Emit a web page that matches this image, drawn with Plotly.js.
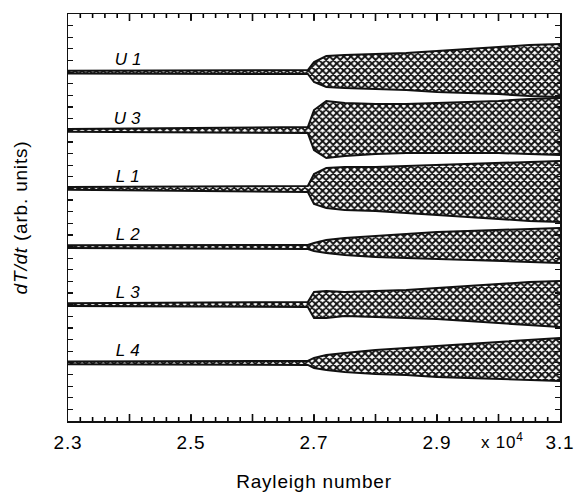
<!DOCTYPE html>
<html>
<head>
<meta charset="utf-8">
<script src="https://cdn.plot.ly/plotly-3.0.1.min.js"></script>
<style>
html,body{margin:0;padding:0;background:#fff;}
#chart{width:585px;height:493px;}
#chart .xtick text, #chart .xtitle, #chart .ytitle, #chart .annotation-text { letter-spacing: 0.8px; }
</style>
</head>
<body>
<div id="chart"></div>
<script>
// Rayleigh number (x 10^4)
const ra = [2.30, 2.69, 2.70, 2.72, 2.75, 2.80, 2.85, 2.90, 2.95, 3.00, 3.05, 3.10];

// Envelope of each dT/dt signal (arb. units, each trace offset by 5)
const u1Upper = [30.12, 30.18, 30.87, 31.38, 31.47, 31.56, 31.64, 31.81, 31.99, 32.16, 32.33, 32.42];
const u1Lower = [29.88, 29.84, 29.15, 28.72, 28.63, 28.55, 28.46, 28.29, 28.20, 28.12, 27.94, 27.86];
const u3Upper = [25.12, 25.28, 26.74, 27.52, 27.34, 27.26, 27.26, 27.34, 27.43, 27.52, 27.69, 27.77];
const u3Lower = [24.88, 24.76, 23.30, 22.61, 22.79, 22.96, 23.04, 23.04, 23.04, 23.04, 22.96, 22.87];
const l1Upper = [20.12, 20.21, 21.24, 21.75, 21.84, 21.84, 21.93, 22.01, 22.10, 22.18, 22.27, 22.36];
const l1Lower = [19.88, 19.69, 18.66, 18.31, 18.14, 18.06, 17.89, 17.71, 17.54, 17.37, 17.20, 17.11];
const l2Upper = [15.12, 15.13, 15.31, 15.56, 15.74, 15.91, 16.08, 16.25, 16.34, 16.42, 16.51, 16.60];
const l2Lower = [14.88, 14.79, 14.62, 14.45, 14.27, 14.10, 14.02, 13.93, 13.84, 13.76, 13.67, 13.59];
const l3Upper = [10.12, 10.23, 11.09, 11.18, 11.09, 11.18, 11.26, 11.44, 11.61, 11.78, 11.95, 12.04];
const l3Lower = [9.88, 9.80, 8.86, 8.86, 9.03, 8.94, 8.86, 8.77, 8.60, 8.43, 8.25, 8.08];
const l4Upper = [5.12, 5.16, 5.42, 5.67, 5.85, 6.10, 6.28, 6.45, 6.62, 6.79, 6.96, 7.14];
const l4Lower = [4.88, 4.82, 4.56, 4.39, 4.21, 4.04, 3.96, 3.78, 3.70, 3.61, 3.53, 3.44];

const seriesNames = ['U1', 'U3', 'L1', 'L2', 'L3', 'L4'];
const baselines = [30, 25, 20, 15, 10, 5];
const uppers = [u1Upper, u3Upper, l1Upper, l2Upper, l3Upper, l4Upper];
const lowers = [u1Lower, u3Lower, l1Lower, l2Lower, l3Lower, l4Lower];

// x ticks: labels every 0.2, long ticks every 0.1, short ticks every 0.02
const xTickVals = [2.3, 2.4, 2.5, 2.6, 2.7, 2.8, 2.9, 3.0, 3.1];
const xTickText = ['2.3', '', '2.5', '', '2.7', '', '2.9', '', '3.1'];
const xMinorTicks = [2.32, 2.34, 2.36, 2.38, 2.42, 2.44, 2.46, 2.48, 2.52, 2.54, 2.56, 2.58,
  2.62, 2.64, 2.66, 2.68, 2.72, 2.74, 2.76, 2.78, 2.82, 2.84, 2.86, 2.88,
  2.92, 2.94, 2.96, 2.98, 3.02, 3.04, 3.06, 3.08];
const yRange = [0, 35];

const plotHeightPx = 493 - 14 - 72;
const unitsPerPx = (yRange[1] - yRange[0]) / plotHeightPx;

const traces = [];
seriesNames.forEach((name, i) => {
  traces.push({
    x: ra, y: lowers[i], type: 'scatter', mode: 'lines',
    line: {color: '#111', width: 2},
    hoverinfo: 'skip', showlegend: false
  });
  traces.push({
    x: ra, y: uppers[i], type: 'scatter', mode: 'lines', name: name,
    line: {color: '#111', width: 2},
    fill: 'tonexty', fillcolor: 'rgba(0,0,0,0)',
    fillpattern: {shape: 'x', fgcolor: '#111', bgcolor: '#fff', size: 5, solidity: 0.62},
    hoverinfo: 'skip', showlegend: false
  });
});

// inward x-axis tick marks on the bottom and top frame
function tickSegments(vals, lenPx) {
  const d = lenPx * unitsPerPx;
  const xs = [], ys = [];
  vals.forEach(v => {
    xs.push(v, v, null, v, v, null);
    ys.push(yRange[0], yRange[0] + d, null, yRange[1], yRange[1] - d, null);
  });
  return {
    x: xs, y: ys, type: 'scatter', mode: 'lines', connectgaps: false,
    line: {color: '#000', width: 1.6},
    hoverinfo: 'skip', showlegend: false
  };
}
traces.push(tickSegments(xTickVals.slice(1, -1), 7));
traces.push(tickSegments(xMinorTicks, 4));

const font = 'Liberation Sans, Arial, Helvetica, sans-serif';
const annotations = seriesNames.map((name, i) => ({
  x: 2.398, y: baselines[i] + 1.05, xref: 'x', yref: 'y',
  text: '<i>' + name.charAt(0) + '\u2009' + name.slice(1) + '</i>',
  showarrow: false, font: {family: font, size: 17, color: '#000'},
  xanchor: 'center', yanchor: 'middle'
}));
annotations.push({
  x: 0.884, y: -0.05, xref: 'paper', yref: 'paper',
  text: 'x 10<sup>4</sup>', showarrow: false,
  font: {family: font, size: 17, color: '#000'},
  xanchor: 'center', yanchor: 'middle'
});

const layout = {
  width: 585, height: 493,
  margin: {l: 68, r: 25, t: 14, b: 72},
  paper_bgcolor: '#fff', plot_bgcolor: '#fff',
  showlegend: false,
  font: {family: font, color: '#000'},
  xaxis: {
    range: [2.3, 3.1], tickmode: 'array', tickvals: xTickVals, ticktext: xTickText,
    ticks: 'inside', ticklen: 6, tickwidth: 1.2, tickcolor: '#111',
    showline: true, linecolor: '#111', linewidth: 1.5, mirror: 'ticks',
    showgrid: false, zeroline: false,
    tickfont: {family: font, size: 19, color: '#000'},
    ticklabelstandoff: 4,
    title: {text: 'Rayleigh number', font: {family: font, size: 19, color: '#000'}, standoff: 22}
  },
  yaxis: {
    range: yRange, dtick: 1, tick0: 0,
    ticks: 'inside', ticklen: 5, tickwidth: 1.2, tickcolor: '#111',
    showticklabels: false,
    showline: true, linecolor: '#111', linewidth: 1.5, mirror: 'ticks',
    showgrid: false, zeroline: false,
    title: {text: '<i>dT/dt</i> (arb. units)', font: {family: font, size: 19, color: '#000'}, standoff: 34}
  },
  annotations: annotations
};

Plotly.newPlot('chart', traces, layout, {displayModeBar: false, staticPlot: true});
</script>
</body>
</html>
